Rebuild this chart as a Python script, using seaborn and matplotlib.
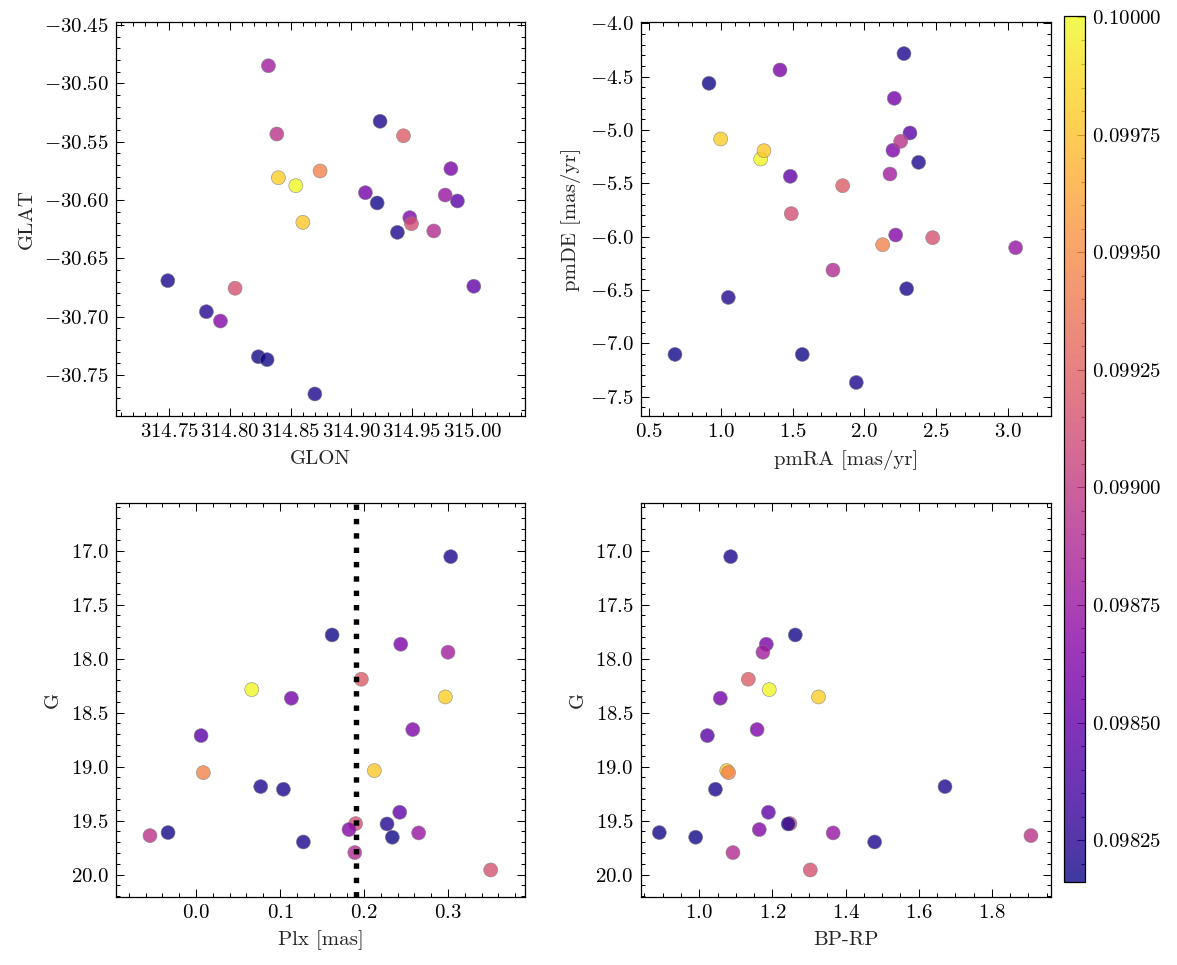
import numpy as np
import pandas as pd
import seaborn as sns
import matplotlib.pyplot as plt
from matplotlib import cm, colors, ticker

# per-star values
glon = [314.9238, 314.9214, 314.9822, 314.8317, 314.9431, 314.8543, 314.9117, 314.8399,
        314.9483, 314.9876, 314.8601, 314.8743, 314.9381, 314.7487, 315.0011, 314.9497,
        314.7805, 314.7921, 314.8234, 314.8386, 314.9775, 314.8306, 314.8700, 314.9681,
        314.8042]
glat = [-30.5325, -30.6025, -30.5731, -30.4849, -30.5449, -30.5877, -30.5937, -30.5809,
        -30.6151, -30.6008, -30.6191, -30.5751, -30.6277, -30.6691, -30.6739, -30.6203,
        -30.6957, -30.7037, -30.7343, -30.5434, -30.5957, -30.7368, -30.7662, -30.6265,
        -30.6756]
pmra = [2.276, 0.9186, 1.4128, 2.1786, 1.8493, 1.2785, 2.2086, 1.0, 2.1995, 2.3178,
        1.3014, 2.1277, 2.378, 2.2948, 1.4847, 1.4915, 1.0531, 2.2182, 0.6819, 2.253,
        3.0536, 1.568, 1.944, 1.7818, 2.4758]
pmde = [-4.284, -4.5625, -4.4375, -5.4125, -5.522, -5.272, -4.703, -5.084, -5.19, -5.028,
        -5.194, -6.075, -5.303, -6.4875, -5.434, -5.784, -6.569, -5.984, -7.103, -5.106,
        -6.103, -7.103, -7.366, -6.3125, -6.009]
plx = [0.3032, 0.162, 0.2437, 0.300, 0.1968, 0.0663, 0.1135, 0.2968, 0.258, 0.006,
       0.2123, 0.0087, 0.077, 0.104, 0.2425, 0.190, 0.2274, 0.1821, -0.0333, -0.0548,
       0.265, 0.2337, 0.1278, 0.189, 0.3508]
bprp = [1.0857, 1.2625, 1.1832, 1.174, 1.134, 1.1914, 1.0574, 1.326, 1.158, 1.022,
        1.075, 1.080, 1.672, 1.044, 1.189, 1.248, 1.243, 1.164, 0.8906, 1.907,
        1.366, 0.990, 1.4795, 1.092, 1.3035]
gmag = [17.056, 17.781, 17.867, 17.941, 18.191, 18.287, 18.367, 18.355, 18.657, 18.713,
        19.037, 19.056, 19.185, 19.21, 19.423, 19.528, 19.531, 19.583, 19.611, 19.639,
        19.614, 19.654, 19.698, 19.796, 19.957]
prob = [0.09820, 0.09818, 0.09860, 0.09880, 0.09922, 0.09999, 0.09858, 0.09982, 0.09862,
        0.09845, 0.09978, 0.09945, 0.09821, 0.09819, 0.09848, 0.09912, 0.09822, 0.09865,
        0.09818, 0.09895, 0.09875, 0.09817, 0.09820, 0.09890, 0.09915]

plx_cut = 0.19
vmin, vmax = 0.098161, 0.100002

stars = pd.DataFrame({"GLON": glon, "GLAT": glat, "pmRA": pmra, "pmDE": pmde,
                      "Plx": plx, "BPRP": bprp, "G": gmag, "prob": prob})

sns.set_style("ticks")
plt.rcParams.update({
    "font.family": "serif",
    "font.serif": ["cmr10"],
    "mathtext.fontset": "cm",
    "axes.formatter.use_mathtext": True,
    "font.size": 10,
    "axes.linewidth": 0.6,
    "axes.edgecolor": "black",
    "xtick.direction": "in",
    "ytick.direction": "in",
    "xtick.top": True,
    "ytick.right": True,
    "xtick.minor.visible": True,
    "ytick.minor.visible": True,
    "xtick.major.size": 4,
    "ytick.major.size": 4,
    "xtick.minor.size": 2,
    "ytick.minor.size": 2,
    "xtick.major.width": 0.5,
    "ytick.major.width": 0.5,
    "xtick.minor.width": 0.5,
    "ytick.minor.width": 0.5,
    "xtick.color": "black",
    "ytick.color": "black",
})

fig = plt.figure(figsize=(1177 / 150, 965 / 150), dpi=150)
ax_tl = fig.add_axes([0.0986, 0.5689, 0.3475, 0.4083])
ax_tr = fig.add_axes([0.5446, 0.5689, 0.3483, 0.4083])
ax_bl = fig.add_axes([0.0986, 0.0705, 0.3475, 0.4083])
ax_br = fig.add_axes([0.5446, 0.0705, 0.3483, 0.4083])
cax = fig.add_axes([0.9040, 0.0860, 0.0178, 0.8974])


def panel(ax, x, y, xlabel, ylabel, xlim, ylim):
    sns.scatterplot(data=stars, x=x, y=y, hue="prob", palette="plasma",
                    hue_norm=(vmin, vmax), s=45, alpha=0.8, edgecolor="gray",
                    linewidth=0.3, legend=False, ax=ax)
    ax.set_xlabel(xlabel)
    ax.set_ylabel(ylabel)
    ax.set_xlim(xlim)
    ax.set_ylim(ylim)


panel(ax_tl, "GLON", "GLAT", "GLON", "GLAT", (314.706, 315.0434), (-30.7851, -30.4474))
panel(ax_tr, "pmRA", "pmDE", "pmRA [mas/yr]", "pmDE [mas/yr]", (0.4452, 3.2993), (-7.680, -3.988))
panel(ax_bl, "Plx", "G", "Plx [mas]", "G", (-0.0952, 0.3917), (20.207, 16.559))
panel(ax_br, "BPRP", "G", "BP-RP", "G", (0.8405, 1.9617), (20.207, 16.559))

ax_tl.xaxis.set_major_locator(ticker.MultipleLocator(0.05))
ax_tl.xaxis.set_minor_locator(ticker.AutoMinorLocator(5))

ax_bl.axvline(plx_cut, color="black", linestyle=":", linewidth=2.6, zorder=3)

sm = cm.ScalarMappable(norm=colors.Normalize(vmin, vmax), cmap="plasma")
cbar = fig.colorbar(sm, cax=cax, alpha=0.8)
cbar.locator = ticker.MultipleLocator(0.00025)
cbar.update_ticks()
cbar.minorticks_on()
cbar.outline.set_linewidth(0.6)

fig.savefig("out.png", dpi=150)
